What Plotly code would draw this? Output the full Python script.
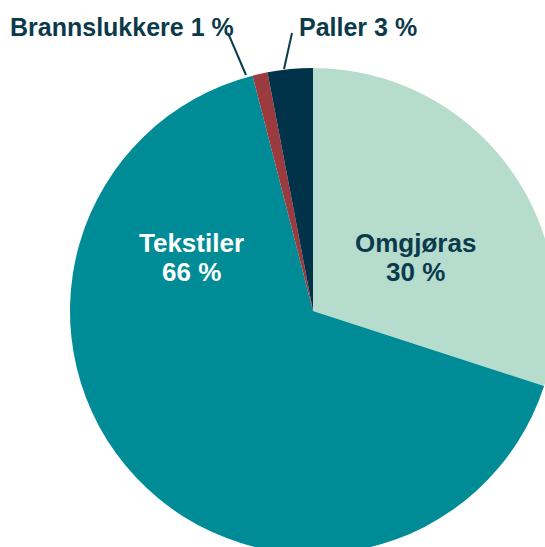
import plotly.graph_objects as go

labels = ["Omgjøras", "Tekstiler", "Brannslukkere", "Paller"]
values = [30, 66, 1, 3]
colors = ["#b5dccd", "#008c96", "#9b3a3f", "#003349"]

W, H = 600, 600
def px(x): return x / W
def py(y): return 1 - y / H

fig = go.Figure(go.Pie(
    labels=labels, values=values, sort=False, direction="clockwise", rotation=0,
    marker=dict(colors=colors, line=dict(width=0)),
    textinfo="none", hoverinfo="skip", showlegend=False,
    domain=dict(x=[px(70), px(556)], y=[py(554), py(68)]),
))

font = "Liberation Sans, Arial, sans-serif"
dark = "#0b3a4c"
ann = []
# inside labels (name line and value line)
for lab, val, cx, col in [(labels[0], values[0], 415, dark), (labels[1], values[1], 191, "white")]:
    ann.append(dict(x=px(cx), y=py(243), xanchor="center", text=f"<b>{lab}</b>",
                    font=dict(family=font, size=26, color=col)))
    ann.append(dict(x=px(cx), y=py(272), xanchor="center", text=f"<b>{val} %</b>",
                    font=dict(family=font, size=26, color=col)))
# outside labels
ann.append(dict(x=px(8), y=py(27), xanchor="left", text=f"<b>{labels[2]} {values[2]} %</b>",
                font=dict(family=font, size=25, color=dark)))
ann.append(dict(x=px(297), y=py(27), xanchor="left", text=f"<b>{labels[3]} {values[3]} %</b>",
                font=dict(family=font, size=25, color=dark)))
for a in ann:
    a.update(xref="paper", yref="paper", showarrow=False, yanchor="middle")

shapes = [
    dict(type="line", xref="paper", yref="paper", x0=px(228), y0=py(33), x1=px(246), y1=py(75),
         line=dict(color=dark, width=2)),
    dict(type="line", xref="paper", yref="paper", x0=px(292), y0=py(33), x1=px(284), y1=py(69),
         line=dict(color=dark, width=2)),
]

fig.update_layout(width=W, height=H, margin=dict(l=0, r=0, t=0, b=0),
                  paper_bgcolor="white", plot_bgcolor="white",
                  annotations=ann, shapes=shapes)

fig.write_html("out.html", config={"displayModeBar": False},
               post_script="document.body.style.margin='0';document.body.style.overflow='hidden';document.documentElement.style.overflow='hidden';")
